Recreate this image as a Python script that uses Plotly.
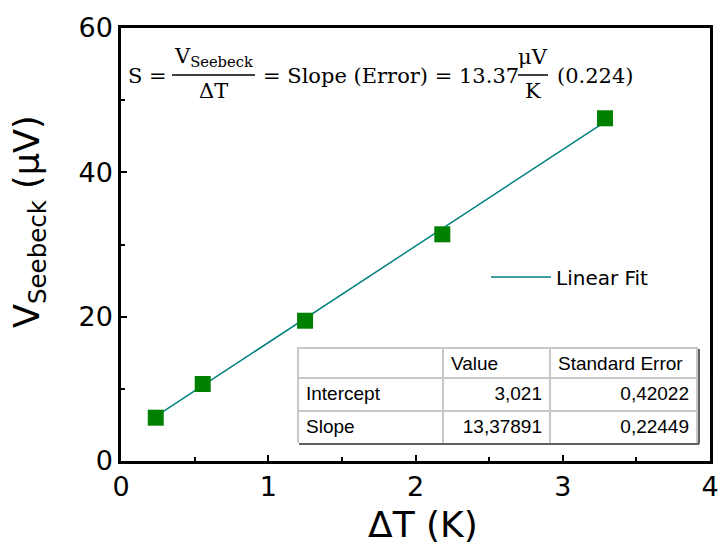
import plotly.graph_objects as go

# ---- data ----
delta_T = [0.236, 0.555, 1.25, 2.182, 3.287]
v_seebeck = [6.0, 10.67, 19.44, 31.41, 47.49]
fit_intercept = 3.021
fit_slope = 13.37891
fit_x = [delta_T[0], delta_T[-1]]
fit_y = [fit_intercept + fit_slope * x for x in fit_x]

table_header = ["", "Value", "Standard\u00a0Error"]
table_rows = ["Intercept", "Slope"]
table_values = ["3,021", "13,37891"]
table_errors = ["0,42022", "0,22449"]

W, H = 721, 544
L, R, T, B = 121, 710, 28, 461


def px(x):
    return (x - L) / (R - L)


def py(y):
    return (B - y) / (B - T)


fig = go.Figure()
fig.add_trace(go.Scatter(
    x=fit_x, y=fit_y, mode="lines", name="Linear Fit",
    line=dict(color="#008080", width=1.5), showlegend=True))
fig.add_trace(go.Scatter(
    x=delta_T, y=v_seebeck, mode="markers", showlegend=False,
    marker=dict(symbol="square", size=16, color="#008000",
                line=dict(width=0))))

tfont = dict(family="Liberation Sans, Arial", size=19, color="black")
fig.add_trace(go.Table(
    domain=dict(x=[px(298), px(697)], y=[py(443), py(348)]),
    columnwidth=[145, 107, 147],
    header=dict(values=table_header, height=30,
                fill_color="white",
                line=dict(color="#c8c8c8", width=2),
                align=["left", "left", "left"],
                font=tfont),
    cells=dict(values=[table_rows, table_values, table_errors], height=33,
               fill_color="white",
               line=dict(color="#c8c8c8", width=2),
               align=["left", "right", "right"],
               font=tfont),
))

eq_font = dict(family="DejaVu Serif", size=21, color="black")
ann = []


def add_text(text, x, y, xanchor="left", size=None):
    f = dict(eq_font)
    if size:
        f["size"] = size
    ann.append(dict(text=text, x=px(x), y=py(y), xref="paper", yref="paper",
                    xanchor=xanchor, yanchor="middle", showarrow=False, font=f))


add_text("S =", 126, 76)
add_text("V<sub>Seebeck</sub>", 213, 57, "center")
add_text("ΔT", 213, 91, "center")
add_text("= Slope (Error) = 13.37", 261, 76)
add_text("μV", 533, 57, "center")
add_text("K", 533, 91, "center")
add_text("(0.224)", 555, 76)

# y-axis title as rotated annotation
ann.append(dict(text="V<sub>Seebeck</sub> (μV)", x=px(29), y=py(222),
                xref="paper", yref="paper", xanchor="center", yanchor="middle",
                textangle=-90, showarrow=False,
                font=dict(family="Tahoma, DejaVu Sans", size=35, color="black")))
# x-axis title as annotation
ann.append(dict(text="ΔT (K)", x=px(423), y=py(524),
                xref="paper", yref="paper", xanchor="center", yanchor="middle",
                showarrow=False,
                font=dict(family="Tahoma, DejaVu Sans", size=36, color="black")))

shapes = [
    dict(type="line", xref="paper", yref="paper", x0=px(172), x1=px(255),
         y0=py(75), y1=py(75), line=dict(color="black", width=1.5)),
    dict(type="line", xref="paper", yref="paper", x0=px(518), x1=px(548),
         y0=py(75), y1=py(75), line=dict(color="black", width=1.5)),
    dict(type="line", xref="paper", yref="paper", x0=px(699), x1=px(699),
         y0=py(444), y1=py(349), line=dict(color="#606060", width=2)),
    dict(type="line", xref="paper", yref="paper", x0=px(299), x1=px(699),
         y0=py(444), y1=py(444), line=dict(color="#606060", width=2)),
]

axis_font = dict(family="Tahoma, DejaVu Sans", size=27, color="black")
fig.update_layout(
    width=W, height=H,
    margin=dict(l=L, r=W - R, t=T, b=H - B, autoexpand=False),
    paper_bgcolor="white", plot_bgcolor="white",
    font=dict(family="Tahoma, DejaVu Sans", color="black"),
    annotations=ann, shapes=shapes,
    legend=dict(x=px(486), y=py(277), xanchor="left", yanchor="middle",
                bgcolor="rgba(0,0,0,0)", itemwidth=60,
                font=dict(family="Tahoma, DejaVu Sans", size=20, color="black")),
    xaxis=dict(range=[0, 4], dtick=1, tick0=0, showgrid=False, zeroline=False,
               automargin=False,
               showline=True, linecolor="black", linewidth=2.5, mirror=True,
               ticks="inside", ticklen=6, tickwidth=2, tickcolor="black",
               minor=dict(ticks="inside", dtick=0.5, ticklen=4, tickwidth=2,
                          tickcolor="black"),
               tickfont=axis_font),
    yaxis=dict(range=[0, 60], dtick=20, tick0=0, showgrid=False, zeroline=False,
               automargin=False,
               showline=True, linecolor="black", linewidth=2.5, mirror=True,
               ticks="inside", ticklen=6, tickwidth=2, tickcolor="black",
               minor=dict(ticks="inside", dtick=10, ticklen=4, tickwidth=2,
                          tickcolor="black"),
               tickfont=axis_font),
)

fig.write_html("out.html")
